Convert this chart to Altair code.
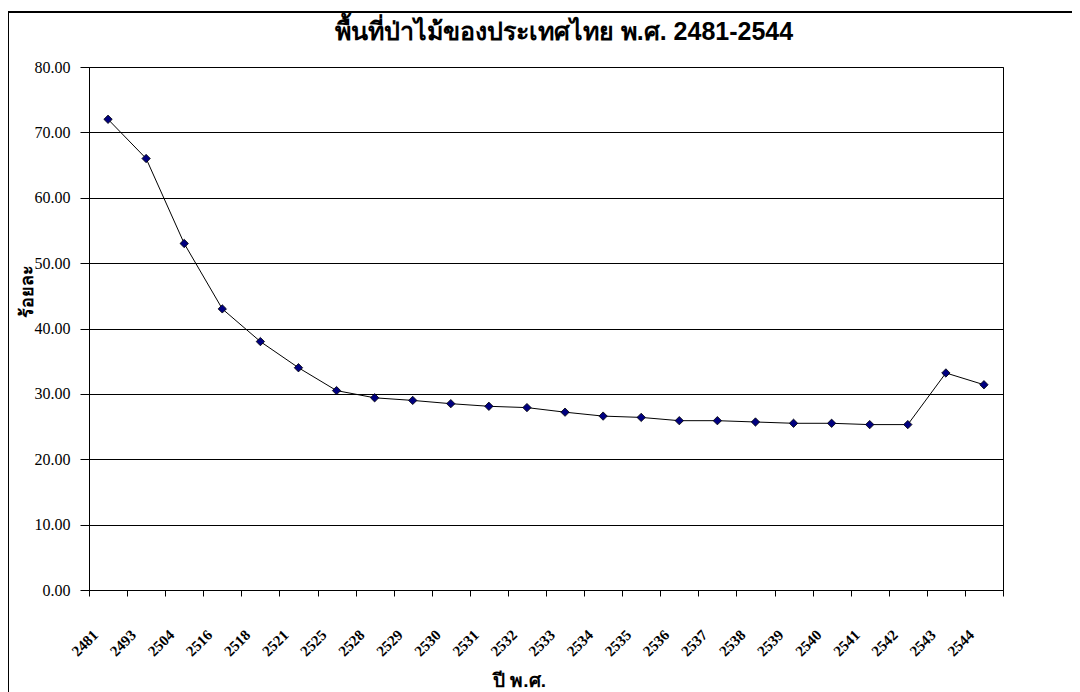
import altair as alt
import pandas as pd

years = ["2481", "2493", "2504", "2516", "2518", "2521", "2525", "2528",
         "2529", "2530", "2531", "2532", "2533", "2534", "2535", "2536",
         "2537", "2538", "2539", "2540", "2541", "2542", "2543", "2544"]
forest_pct = [72.0, 66.0, 53.0, 43.0, 38.0, 34.0, 30.5, 29.4,
              29.0, 28.5, 28.1, 27.9, 27.2, 26.6, 26.4, 25.9,
              25.9, 25.7, 25.5, 25.5, 25.3, 25.3, 33.2, 31.4]
y_ticks = [0, 10, 20, 30, 40, 50, 60, 70, 80]

df = pd.DataFrame({"year": years, "pct": forest_pct})

serif = "Liberation Serif"
sans = "Liberation Sans"

base = alt.Chart(df).encode(
    x=alt.X(
        "year:N",
        sort=years,
        scale=alt.Scale(paddingInner=0, paddingOuter=0),
        axis=alt.Axis(
            title="ปี พ.ศ.",
            titleFont=sans,
            titleFontSize=19,
            titleFontWeight="bold",
            titleColor="black",
            titleAlign="center",
            titleBaseline="middle",
            titleX=430,
            titleY=90,
            labelAngle=-45,
            labelAlign="right",
            labelBaseline="middle",
            labelFont=serif,
            labelFontSize=15,
            labelFontWeight="bold",
            labelColor="black",
            labelPadding=36,
            labelOffset=-13,
            tickBand="extent",
            tickColor="black",
            tickSize=6,
            domainColor="black",
            grid=False,
        ),
    ),
    y=alt.Y(
        "pct:Q",
        scale=alt.Scale(domain=[0, 80], nice=False),
        axis=alt.Axis(
            values=y_ticks,
            format=".2f",
            title="ร้อยละ",
            titleFont=sans,
            titleFontSize=18,
            titleFontWeight="bold",
            titleColor="black",
            titleAngle=270,
            titleX=-62,
            titleY=224,
            titleAlign="center",
            titleBaseline="middle",
            labelFont=serif,
            labelFontSize=16,
            labelColor="black",
            labelPadding=10,
            tickColor="black",
            tickSize=9,
            domainColor="black",
            gridColor="black",
            gridWidth=1,
            gridOpacity=1,
        ),
    ),
)

line = base.mark_line(color="black", strokeWidth=1)
pts = base.mark_point(
    shape="diamond", filled=True, fill="#000080", stroke="black",
    strokeWidth=0.8, size=70, opacity=1,
)

frame_left = alt.Chart(df).mark_rule(color="black", strokeWidth=2).encode(
    x=alt.value(-81), y=alt.value(-55), y2=alt.value(660)
)
frame_top = alt.Chart(df).mark_rule(color="black", strokeWidth=2).encode(
    x=alt.value(-81), x2=alt.value(1000), y=alt.value(-55)
)

chart = (
    alt.layer(frame_left, frame_top, line, pts)
    .properties(
        width=914,
        height=523,
        title=alt.TitleParams(
            "พื้นที่ป่าไม้ของประเทศไทย พ.ศ. 2481-2544",
            font=sans,
            fontSize=25,
            fontWeight="bold",
            color="black",
            anchor="middle",
            frame="group",
            baseline="alphabetic",
            offset=25,
            dy=79,
            dx=18,
        ),
        autosize=alt.AutoSizeParams(type="none"),
        padding={"left": 81, "top": 59, "right": 69, "bottom": 102},
    )
    .configure_view(stroke="black", strokeWidth=1)
)

chart.save("out.html", embed_options={"renderer": "svg", "actions": False})
